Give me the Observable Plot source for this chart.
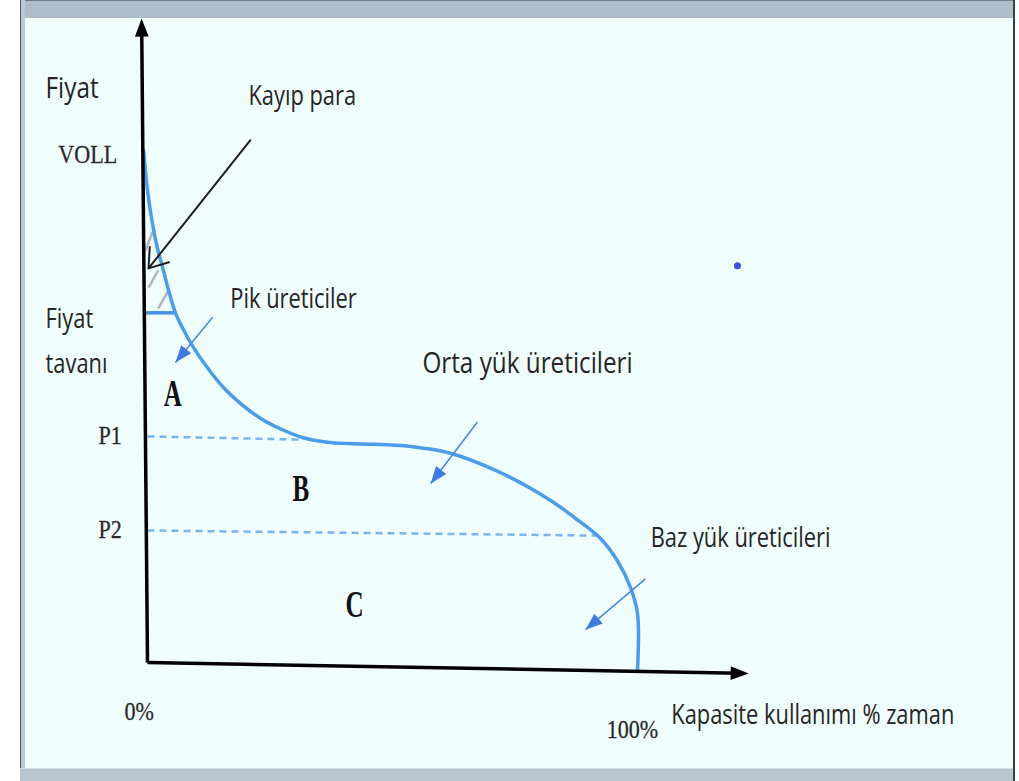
<!DOCTYPE html>
<html>
<head>
<meta charset="utf-8">
<script src="https://cdn.jsdelivr.net/npm/d3@7"></script>
<script src="https://cdn.jsdelivr.net/npm/@observablehq/plot@0.6"></script>
<style>
html, body { margin: 0; padding: 0; background: #fff; }
#wrap { position: relative; width: 1019px; height: 781px; overflow: hidden; background: #fff; }
#wrap .bg { position: absolute; left: 25px; top: 18px; width: 988px; height: 750px; background: #f0fdfd; }
#wrap .top { position: absolute; left: 20px; top: 0; width: 995px; height: 18px; background: #adbdca; border-top: 1px solid #6f7c88; box-sizing: border-box; }
#wrap .left { position: absolute; left: 20px; top: 0; width: 5px; height: 781px; background: #b9c7d2; border-left: 1px solid #4d5862; box-sizing: border-box; }
#wrap .right { position: absolute; left: 1013px; top: 0; width: 2px; height: 781px; background: #3a4048; }
#wrap .bottom { position: absolute; left: 20px; top: 768px; width: 993px; height: 13px; background: #b7c5d1; border-top: 1px solid #d3dde5; box-sizing: border-box; }
#wrap svg { position: absolute; left: 0; top: 0; }
</style>
</head>
<body>
<div id="wrap"><div class="bg"></div><div class="top"></div><div class="left"></div><div class="right"></div><div class="bottom"></div></div>
<script>
// ---- Data (x: capacity use % of time, y: price, arbitrary units 0..100) ----
const curveX = [-0.8, 0, 1.0, 2.0, 3.1, 4.3, 5.7, 7.4, 9.4, 12.2, 15.5, 19.0, 23.1, 27.1, 31.8, 36.7, 40.8, 46.1, 51.6, 61.8, 72.0, 82.2, 87.3, 92.4, 95.9, 98.6, 100, 100];
const curveY = [79.5, 73.3, 68.2, 64.4, 61.3, 57.8, 54.3, 51.6, 48.9, 45.8, 42.7, 40.2, 37.9, 36.3, 34.9, 34.2, 34.0, 33.9, 33.7, 32.5, 29.5, 25.2, 22.4, 19.3, 15.8, 11.6, 7.6, -1.2];

const levelNames = ["P1", "P2"];
const levelStartY = [35.1, 20.5];
const levelEndX = [31.8, 92.4];
const levelEndY = [34.6, 19.7];

const capY = 54.3;
const capX = [-0.4, 5.7];

const hatchX1 = [1.0, 2.2, 4.3];
const hatchY1 = [66.8, 60.9, 57.8];
const hatchX2 = [-0.4, 0.2, 2.2];
const hatchY2 = [64.0, 58.2, 55.0];

const axisTipX = [-1.2, 122.7];
const axisTipY = [100, -1.7];
const axisAngle = [-0.5, 91];

const pointerNames = ["Pik üreticiler", "Orta yük üreticileri", "Baz yük üreticileri"];
const pointerStartX = [13.3, 67.3, 101.6];
const pointerStartY = [53.6, 37.3, 13.0];
const pointerTipX = [5.7, 57.8, 89.4];
const pointerTipY = [46.6, 27.8, 5.1];
const pointerAngle = [-140.6, -142.4, -130.4];

const lossStart = [21.0, 81.1];
const lossTip = [0.2, 61.2];

const strayDot = [120.4, 61.6];

const sansLabels = ["Fiyat", "Kayıp para", "Fiyat", "tavanı", "Pik üreticiler", "Orta yük üreticileri", "Baz yük üreticileri", "Kapasite kullanımı % zaman"];
const sansX = [-20.8, 20.6, -20.8, -20.8, 16.9, 56.1, 102.7, 106.9];
const sansY = [87.7, 86.5, 51.9, 45.0, 55.1, 45.0, 17.9, -9.5];
const sansBig = [true, false, false, false, false, true, false, false];

const serifLabels = ["VOLL", "P1", "P2", "0%", "100%"];
const serifX = [-18.2, -10.0, -10.0, -4.7, 93.7];
const serifY = [77.6, 34.0, 19.4, -9.0, -11.8];

const regionLabels = ["A", "B", "C"];
const regionX = [3.3, 29.6, 40.4];
const regionY = [39.9, 25.1, 7.1];

// ---- Tables built from the arrays ----
const curve = curveX.map((x, i) => ({x, y: curveY[i]}));
const levels = levelNames.map((n, i) => ({x1: 0, y1: levelStartY[i], x2: levelEndX[i], y2: levelEndY[i]}));
const cap = [{x1: capX[0], x2: capX[1], y: capY}];
const hatch = hatchX1.map((x, i) => ({x1: x, y1: hatchY1[i], x2: hatchX2[i], y2: hatchY2[i]}));
const axes = axisTipX.map((x, i) => ({x1: 0, y1: 0, x2: x * 0.985, y2: axisTipY[i] * 0.985, tx: x, ty: axisTipY[i], a: axisAngle[i]}));
const pointers = pointerNames.map((n, i) => ({x1: pointerStartX[i], y1: pointerStartY[i], x2: pointerTipX[i], y2: pointerTipY[i], a: pointerAngle[i]}));
const loss = [{x1: lossStart[0], y1: lossStart[1], x2: lossTip[0], y2: lossTip[1]}];
const sansSmall = sansLabels.map((t, i) => ({t, x: sansX[i], y: sansY[i], big: sansBig[i]}));
const serif = serifLabels.map((t, i) => ({t, x: serifX[i], y: serifY[i]}));
const regions = regionLabels.map((t, i) => ({t, x: regionX[i], y: regionY[i]}));

// arrowhead symbol with its tip at the origin, pointing up
const head = {
  draw(context, size) {
    const s = Math.sqrt(size);
    context.moveTo(0, 0);
    context.lineTo(-0.38 * s, s);
    context.lineTo(0.38 * s, s);
    context.closePath();
  }
};

const plot = Plot.plot({
  width: 1019,
  height: 781,
  margin: 0,
  x: {domain: [0, 100], range: [147, 637], axis: null},
  y: {domain: [0, 100], range: [662, 18], axis: null},
  style: {background: "transparent", overflow: "visible"},
  marks: [
    Plot.link(hatch, {x1: "x1", y1: "y1", x2: "x2", y2: "y2", stroke: "#b4b4b4", strokeWidth: 2.5}),
    Plot.link(levels, {x1: "x1", y1: "y1", x2: "x2", y2: "y2", stroke: "#7ab4f0", strokeWidth: 2.5, strokeDasharray: "7,5"}),
    Plot.link(cap, {x1: "x1", x2: "x2", y1: "y", y2: "y", stroke: "#4a8fe2", strokeWidth: 3.5}),
    Plot.line(curve, {x: "x", y: "y", curve: "catmull-rom", stroke: "#4c9ce9", strokeWidth: 3.5}),
    Plot.link(axes, {x1: "x1", y1: "y1", x2: "x2", y2: "y2", stroke: "#000", strokeWidth: 3.5}),
    Plot.dot(axes, {x: "tx", y: "ty", rotate: "a", symbol: head, r: 10.2, fill: "#000", stroke: "none"}),
    Plot.link(pointers, {x1: "x1", y1: "y1", x2: "x2", y2: "y2", stroke: "#4a88e4", strokeWidth: 1.6}),
    Plot.dot(pointers, {x: "x2", y: "y2", rotate: "a", symbol: head, r: 9.6, fill: "#3e7ae0", stroke: "none"}),
    Plot.arrow(loss, {x1: "x1", y1: "y1", x2: "x2", y2: "y2", stroke: "#1e1e1e", strokeWidth: 2, headLength: 16, headAngle: 70}),
    Plot.dot([strayDot], {x: d => d[0], y: d => d[1], r: 3.5, fill: "#3c4fe0", stroke: "none"}),
    Plot.text(sansSmall.filter(d => !d.big), {x: "x", y: "y", text: "t", textAnchor: "start", lineAnchor: "bottom", fontFamily: "Open Sans", fontSize: 27, fill: "#252525"}),
    Plot.text(sansSmall.filter(d => d.big), {x: "x", y: "y", text: "t", textAnchor: "start", lineAnchor: "bottom", fontFamily: "Open Sans", fontSize: 30, fill: "#252525"}),
    Plot.text(serif, {x: "x", y: "y", text: "t", textAnchor: "start", lineAnchor: "bottom", fontFamily: "Liberation Serif", fontSize: 26, fill: "#2a2a2a", stroke: "#2a2a2a", strokeWidth: 0.3}),
    Plot.text(regions, {x: "x", y: "y", text: "t", textAnchor: "start", lineAnchor: "bottom", fontFamily: "Liberation Serif", fontWeight: "bold", fontSize: 38, fill: "#111"})
  ]
});

// narrow the lettering like the reference
plot.querySelectorAll('g[aria-label="text"]').forEach(g => {
  const fam = g.getAttribute("font-family") || "";
  const bold = (g.getAttribute("font-weight") || "") === "bold";
  const sx = fam.includes("Serif") ? (bold ? 0.66 : 0.85) : 0.81;
  g.querySelectorAll("text").forEach(t => {
    const tr = t.getAttribute("transform") || "";
    t.setAttribute("transform", tr + ` scale(${sx},1)`);
  });
});

document.getElementById("wrap").appendChild(plot);
</script>
</body>
</html>
